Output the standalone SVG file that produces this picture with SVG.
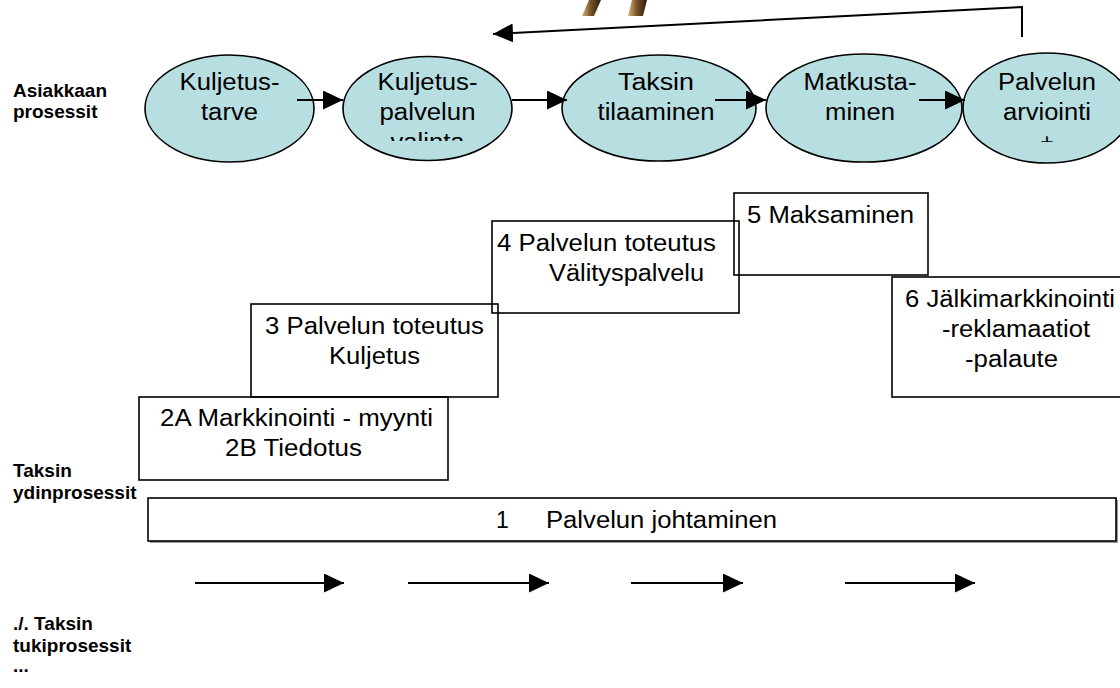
<svg xmlns="http://www.w3.org/2000/svg" width="1120" height="688" viewBox="0 0 1120 688">
  <defs>
    <style>
      .oval { fill: #b7dfe2; stroke: #000; stroke-width: 1.6; }
      .box { fill: none; stroke: #000; stroke-width: 1.6; }
      .t { font-family: "Liberation Sans", Arial, sans-serif; font-size: 23px; fill: #000; }
      .mid { text-anchor: middle; }
      .lbl { font-family: "Liberation Sans", Arial, sans-serif; font-size: 19px; font-weight: bold; fill: #000; }
      .conn { fill: none; stroke: #000; stroke-width: 2; }
    </style>
    <marker id="head" markerUnits="userSpaceOnUse" markerWidth="20" markerHeight="19" refX="20" refY="9.5" orient="auto">
      <path d="M0,0 L20,9.5 L0,19 Z" fill="#000"/>
    </marker>
    <linearGradient id="wood" x1="0" y1="0" x2="1" y2="0">
      <stop offset="0" stop-color="#d8b47e"/>
      <stop offset="0.45" stop-color="#7a5429"/>
      <stop offset="1" stop-color="#2a1a0a"/>
    </linearGradient>
    <clipPath id="clipE2"><rect x="340" y="60" width="180" height="81"/></clipPath>
    <clipPath id="clipE5"><rect x="960" y="60" width="160" height="82"/></clipPath>
  </defs>

  <!-- decorative fragment at the top edge -->
  <g id="ornament">
    <polygon points="589,0 601,0 594,16 582,16" fill="url(#wood)"/>
    <polygon points="632,0 647,0 643,16 628,16" fill="url(#wood)"/>
  </g>

  <!-- row labels -->
  <g id="labels">
    <text class="lbl" x="13" y="97">Asiakkaan</text>
    <text class="lbl" x="13" y="118">prosessit</text>
    <text class="lbl" x="13" y="477">Taksin</text>
    <text class="lbl" x="13" y="499">ydinprosessit</text>
    <text class="lbl" x="13" y="630">./. Taksin</text>
    <text class="lbl" x="13" y="652">tukiprosessit</text>
    <text class="lbl" x="13" y="672">...</text>
  </g>

  <!-- customer process ovals -->
  <g id="n-kuljetustarve">
    <ellipse class="oval" cx="229.5" cy="108.5" rx="84.5" ry="53.5"/>
    <text class="t mid" x="229.5" y="90" textLength="100" lengthAdjust="spacingAndGlyphs">Kuljetus-</text>
    <text class="t mid" x="229.5" y="120" textLength="57" lengthAdjust="spacingAndGlyphs">tarve</text>
  </g>
  <g id="n-valinta">
    <ellipse class="oval" cx="427.5" cy="108.5" rx="84.5" ry="52"/>
    <g clip-path="url(#clipE2)">
      <text class="t mid" x="427.5" y="90" textLength="100" lengthAdjust="spacingAndGlyphs">Kuljetus-</text>
      <text class="t mid" x="427.5" y="120" textLength="96" lengthAdjust="spacingAndGlyphs">palvelun</text>
      <text class="t mid" x="427.5" y="150" textLength="74" lengthAdjust="spacingAndGlyphs">valinta</text>
    </g>
  </g>
  <g id="n-tilaaminen">
    <ellipse class="oval" cx="659" cy="108" rx="97" ry="53"/>
    <text class="t mid" x="656" y="90" textLength="76" lengthAdjust="spacingAndGlyphs">Taksin</text>
    <text class="t mid" x="656" y="120" textLength="117" lengthAdjust="spacingAndGlyphs">tilaaminen</text>
  </g>
  <g id="n-matkustaminen">
    <ellipse class="oval" cx="864" cy="108" rx="98" ry="54"/>
    <text class="t mid" x="860" y="90" textLength="113" lengthAdjust="spacingAndGlyphs">Matkusta-</text>
    <text class="t mid" x="860" y="120" textLength="70" lengthAdjust="spacingAndGlyphs">minen</text>
  </g>
  <g id="n-arviointi">
    <ellipse class="oval" cx="1047" cy="108" rx="84" ry="55"/>
    <g clip-path="url(#clipE5)">
      <text class="t mid" x="1047" y="90" textLength="98" lengthAdjust="spacingAndGlyphs">Palvelun</text>
      <text class="t mid" x="1047" y="120" textLength="88" lengthAdjust="spacingAndGlyphs">arviointi</text>
      <text class="t mid" x="1047" y="150">+</text>
    </g>
  </g>

  <!-- core process boxes -->
  <g id="n-johtaminen">
    <rect x="150" y="500" width="968" height="43" fill="#9a9a9a"/>
    <rect x="148" y="498" width="968" height="43" fill="#fff" stroke="#000" stroke-width="1.6"/>
    <text class="t" y="528"><tspan x="496">1</tspan><tspan x="546" textLength="231" lengthAdjust="spacingAndGlyphs">Palvelun johtaminen</tspan></text>
  </g>
  <g id="n-markkinointi">
    <rect class="box" x="139" y="397" width="309" height="83"/>
    <text class="t" x="160" y="426" textLength="273" lengthAdjust="spacingAndGlyphs">2A Markkinointi - myynti</text>
    <text class="t" x="225" y="456" textLength="137" lengthAdjust="spacingAndGlyphs">2B Tiedotus</text>
  </g>
  <g id="n-kuljetus">
    <rect class="box" x="251" y="304" width="247" height="93"/>
    <text class="t" x="265" y="334" textLength="219" lengthAdjust="spacingAndGlyphs">3 Palvelun toteutus</text>
    <text class="t" x="329" y="364" textLength="91" lengthAdjust="spacingAndGlyphs">Kuljetus</text>
  </g>
  <g id="n-valityspalvelu">
    <rect class="box" x="492" y="221" width="247" height="92"/>
    <text class="t" x="497" y="251" textLength="219" lengthAdjust="spacingAndGlyphs">4 Palvelun toteutus</text>
    <text class="t" x="549" y="281" textLength="155" lengthAdjust="spacingAndGlyphs">Välityspalvelu</text>
  </g>
  <g id="n-maksaminen">
    <rect class="box" x="734" y="193" width="194" height="82"/>
    <text class="t" x="747" y="223" textLength="167" lengthAdjust="spacingAndGlyphs">5 Maksaminen</text>
  </g>
  <g id="n-jalkimarkkinointi">
    <rect class="box" x="892" y="277" width="240" height="120"/>
    <text class="t" x="905" y="307" textLength="210" lengthAdjust="spacingAndGlyphs">6 Jälkimarkkinointi</text>
    <text class="t" x="942" y="337" textLength="148" lengthAdjust="spacingAndGlyphs">-reklamaatiot</text>
    <text class="t" x="965" y="367" textLength="93" lengthAdjust="spacingAndGlyphs">-palaute</text>
  </g>

  <!-- connectors -->
  <g id="connectors">
    <line class="conn" x1="297" y1="100" x2="343" y2="100" marker-end="url(#head)"/>
    <line class="conn" x1="512" y1="100" x2="567" y2="100" marker-end="url(#head)"/>
    <line class="conn" x1="715" y1="100" x2="766" y2="100" marker-end="url(#head)"/>
    <line class="conn" x1="919" y1="100" x2="965" y2="100" marker-end="url(#head)"/>
    <polyline class="conn" points="1022,37 1022,7 493,34" marker-end="url(#head)"/>
    <line class="conn" x1="195" y1="583" x2="344" y2="583" marker-end="url(#head)"/>
    <line class="conn" x1="408" y1="583" x2="549" y2="583" marker-end="url(#head)"/>
    <line class="conn" x1="631" y1="583" x2="743" y2="583" marker-end="url(#head)"/>
    <line class="conn" x1="845" y1="583" x2="975" y2="583" marker-end="url(#head)"/>
  </g>
</svg>
